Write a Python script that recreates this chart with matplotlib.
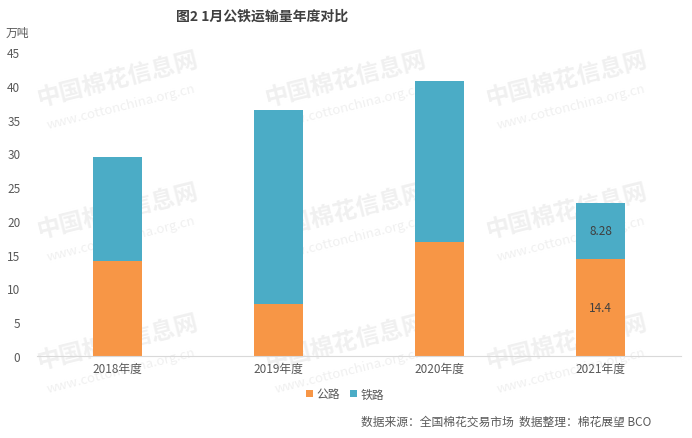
import numpy as np
import matplotlib
matplotlib.use("Agg")
import matplotlib.pyplot as plt

plt.rcParams['font.family'] = ['Noto Sans CJK SC', 'DejaVu Sans']

# data (万吨)
years = ["2018年度", "2019年度", "2020年度", "2021年度"]
road = [14.1, 7.7, 16.9, 14.4]      # 公路
rail = [15.3, 28.7, 23.8, 8.28]     # 铁路
yticks = [0, 5, 10, 15, 20, 25, 30, 35, 40, 45]

c_road = "#F79646"
c_rail = "#4BACC6"
grey = "#595959"

fig = plt.figure(figsize=(6.92, 4.39), dpi=100)
ax = fig.add_axes([37 / 692, 1 - 357 / 439, 644 / 692, (357 - 53) / 439])

# faint watermark grid, behind the bars
for wy in [0.80, 0.50, 0.20]:
    for wx in [0.17, 0.50, 0.82]:
        ax.text(wx, wy + 0.02, "中国棉花信息网", transform=fig.transFigure, fontsize=17,
                fontweight="bold", color="#F0F0F0", rotation=14, ha="center", va="center",
                zorder=0.5, clip_on=False)
        ax.text(wx + 0.005, wy - 0.045, "www.cottonchina.org.cn", transform=fig.transFigure,
                fontsize=9.5, color="#F0F0F0", rotation=14, ha="center", va="center",
                zorder=0.5, clip_on=False)

x = np.arange(len(years))
w = 0.31
ax.bar(x, road, w, color=c_road, label="公路", zorder=2)
ax.bar(x, rail, w, bottom=road, color=c_rail, label="铁路", zorder=2)

# labels only on the last bar
ax.text(x[-1], road[-1] / 2, f"{road[-1]:g}", ha="center", va="center", fontsize=8.5,
        color="#404040", zorder=3)
ax.text(x[-1], road[-1] + rail[-1] / 2, f"{rail[-1]:g}", ha="center", va="center",
        fontsize=8.5, color="#404040", zorder=3)

ax.set_xlim(-0.5, 3.5)
ax.set_ylim(0, 45)
ax.set_yticks(yticks)
ax.set_xticks(x)
ax.set_xticklabels(years)
ax.tick_params(axis="both", length=0, labelsize=8.5, colors=grey)
ax.tick_params(axis="x", pad=4)
ax.tick_params(axis="y", pad=12)
for s in ["top", "right", "left"]:
    ax.spines[s].set_visible(False)
ax.spines["bottom"].set_color("#D9D9D9")
ax.patch.set_alpha(0)

fig.text(6 / 692, 1 - 33 / 439, "万吨", fontsize=8.5, color=grey, ha="left", va="center")
fig.text(262 / 692, 1 - 17 / 439, "图2 1月公铁运输量年度对比", fontsize=10, fontweight="bold",
         color="#404040", ha="center", va="center")

ax.legend(loc="center", bbox_to_anchor=(345 / 692, 1 - 395 / 439), bbox_transform=fig.transFigure,
          ncol=2, frameon=False, fontsize=8.5, handlelength=0.6, handleheight=0.6,
          handletextpad=0.3, columnspacing=0.8, labelcolor=grey)

fig.text(651 / 692, 1 - 422 / 439, "数据来源：全国棉花交易市场  数据整理：棉花展望 BCO",
         fontsize=8.5, color=grey, ha="right", va="center")

fig.savefig("out.png", dpi=100)
